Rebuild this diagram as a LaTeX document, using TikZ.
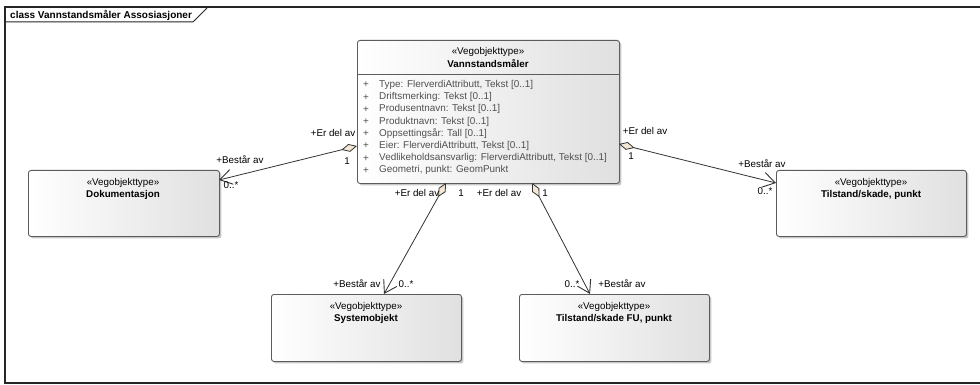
\documentclass[tikz,border=0pt]{standalone}
\usepackage{fontspec}
\setmainfont{Liberation Sans}
\usetikzlibrary{arrows.meta,shadows}
\definecolor{bordc}{HTML}{5C5C5C}
\definecolor{boxgray}{HTML}{E0E0E0}
\definecolor{attrc}{HTML}{505050}
\definecolor{dfill}{HTML}{F4E8D4}
\definecolor{linec}{HTML}{333333}
\begin{document}
\begin{tikzpicture}[x=1pt,y=-1pt,
  classbox/.style={draw=bordc, line width=0.9pt, rounded corners=2.5pt,
    left color=white, right color=boxgray, inner sep=0pt, anchor=north west,
    drop shadow={shadow xshift=2pt, shadow yshift=-2pt, fill=black!40, opacity=.55}},
  stereo/.style={font=\fontsize{9.8}{11}\selectfont, text=black, inner sep=0pt},
  cname/.style={font=\fontsize{9.8}{11}\selectfont\bfseries, text=black, inner sep=0pt},
  attr/.style={font=\fontsize{9.9}{11}\selectfont, text=attrc, inner sep=0pt, anchor=west},
  lbl/.style={font=\fontsize{9.8}{11}\selectfont, text=black, inner sep=0pt},
  assoc/.style={draw=linec, line width=0.8pt,
    {Diamond[length=16pt,width=8pt,fill=dfill]}-{Straight Barb[length=12pt,width=15pt,line width=0.9pt]}}
]
\useasboundingbox (0,0) rectangle (980,385);
\fill[white] (0,0) rectangle (980,385);
% frame
\draw[line width=1.4pt, black!85] (981,7) -- (5,7) -- (5,383) -- (981,383);
\draw[line width=1pt, black!85] (5,22) -- (193,22) -- (207,8);
\node[font=\fontsize{10}{12}\selectfont\bfseries, anchor=west, inner sep=0pt] (title) at (10,15) {class Vannstandsmåler Assosiasjoner};

% main class
\node[classbox, minimum width=262pt, minimum height=143pt] (main) at (357,40) {};
\draw[draw=bordc, line width=0.9pt] (357,74) -- (619,74);
\node[stereo] (mainS) at (488,52) {«Vegobjekttype»};
\node[cname] (mainN) at (488,64) {Vannstandsmåler};
\foreach \t [count=\i from 0] in {{Type: FlerverdiAttributt, Tekst [0..1]},
  {Driftsmerking: Tekst [0..1]}, {Produsentnavn: Tekst [0..1]}, {Produktnavn: Tekst [0..1]},
  {Oppsettingsår: Tall [0..1]}, {Eier: FlerverdiAttributt, Tekst [0..1]},
  {Vedlikeholdsansvarlig: FlerverdiAttributt, Tekst [0..1]}, {Geometri, punkt: GeomPunkt}}{
  \node[attr] (plus\i) at (363,{85+12.2*\i}) {+};
  \node[attr] (attr\i) at (379,{85+12.2*\i}) {\t};
}

% other classes
\node[classbox, minimum width=191pt, minimum height=66pt] (doc) at (28,170) {};
\node[stereo] (docS) at (123,183) {«Vegobjekttype»};
\node[cname] (docN) at (123,195) {Dokumentasjon};

\node[classbox, minimum width=190pt, minimum height=66pt] (tsp) at (776,170) {};
\node[stereo] (tspS) at (871,183) {«Vegobjekttype»};
\node[cname] (tspN) at (871,195) {Tilstand/skade, punkt};

\node[classbox, minimum width=190pt, minimum height=67pt] (sys) at (271,294) {};
\node[stereo] (sysS) at (366,307) {«Vegobjekttype»};
\node[cname] (sysN) at (366,319) {Systemobjekt};

\node[classbox, minimum width=190pt, minimum height=67pt] (tfu) at (519,294) {};
\node[stereo] (tfuS) at (614,307) {«Vegobjekttype»};
\node[cname] (tfuN) at (614,319) {Tilstand/skade FU, punkt};

% connector end points
\coordinate (m1) at (357,146);
\coordinate (e1) at (219,180);
\coordinate (m2) at (619,144);
\coordinate (e2) at (776,183);
\coordinate (m3) at (446,183);
\coordinate (e3) at (384,294);
\coordinate (m4) at (532,183);
\coordinate (e4) at (590,294);

\draw[assoc] (m1) -- (e1);
\draw[assoc] (m2) -- (e2);
\draw[assoc] (m3) -- (e3);
\draw[assoc] (m4) -- (e4);

% labels
\node[lbl] (l1a) at (333,133) {+Er del av};
\node[lbl] (l1b) at (347,161) {1};
\node[lbl] (l1c) at (240,160) {+Består av};
\node[lbl] (l1d) at (231,185) {0..*};

\node[lbl] (l2a) at (645,131) {+Er del av};
\node[lbl] (l2b) at (631,156) {1};
\node[lbl] (l2c) at (762,164) {+Består av};
\node[lbl] (l2d) at (765,191) {0..*};

\node[lbl] (l3a) at (417,193) {+Er del av};
\node[lbl] (l3b) at (461,193) {1};
\node[lbl] (l3c) at (357,284) {+Består av};
\node[lbl] (l3d) at (406,284) {0..*};

\node[lbl] (l4a) at (499,193) {+Er del av};
\node[lbl] (l4b) at (545,193) {1};
\node[lbl] (l4c) at (622,284) {+Består av};
\node[lbl] (l4d) at (572,284) {0..*};
\end{tikzpicture}
\end{document}
